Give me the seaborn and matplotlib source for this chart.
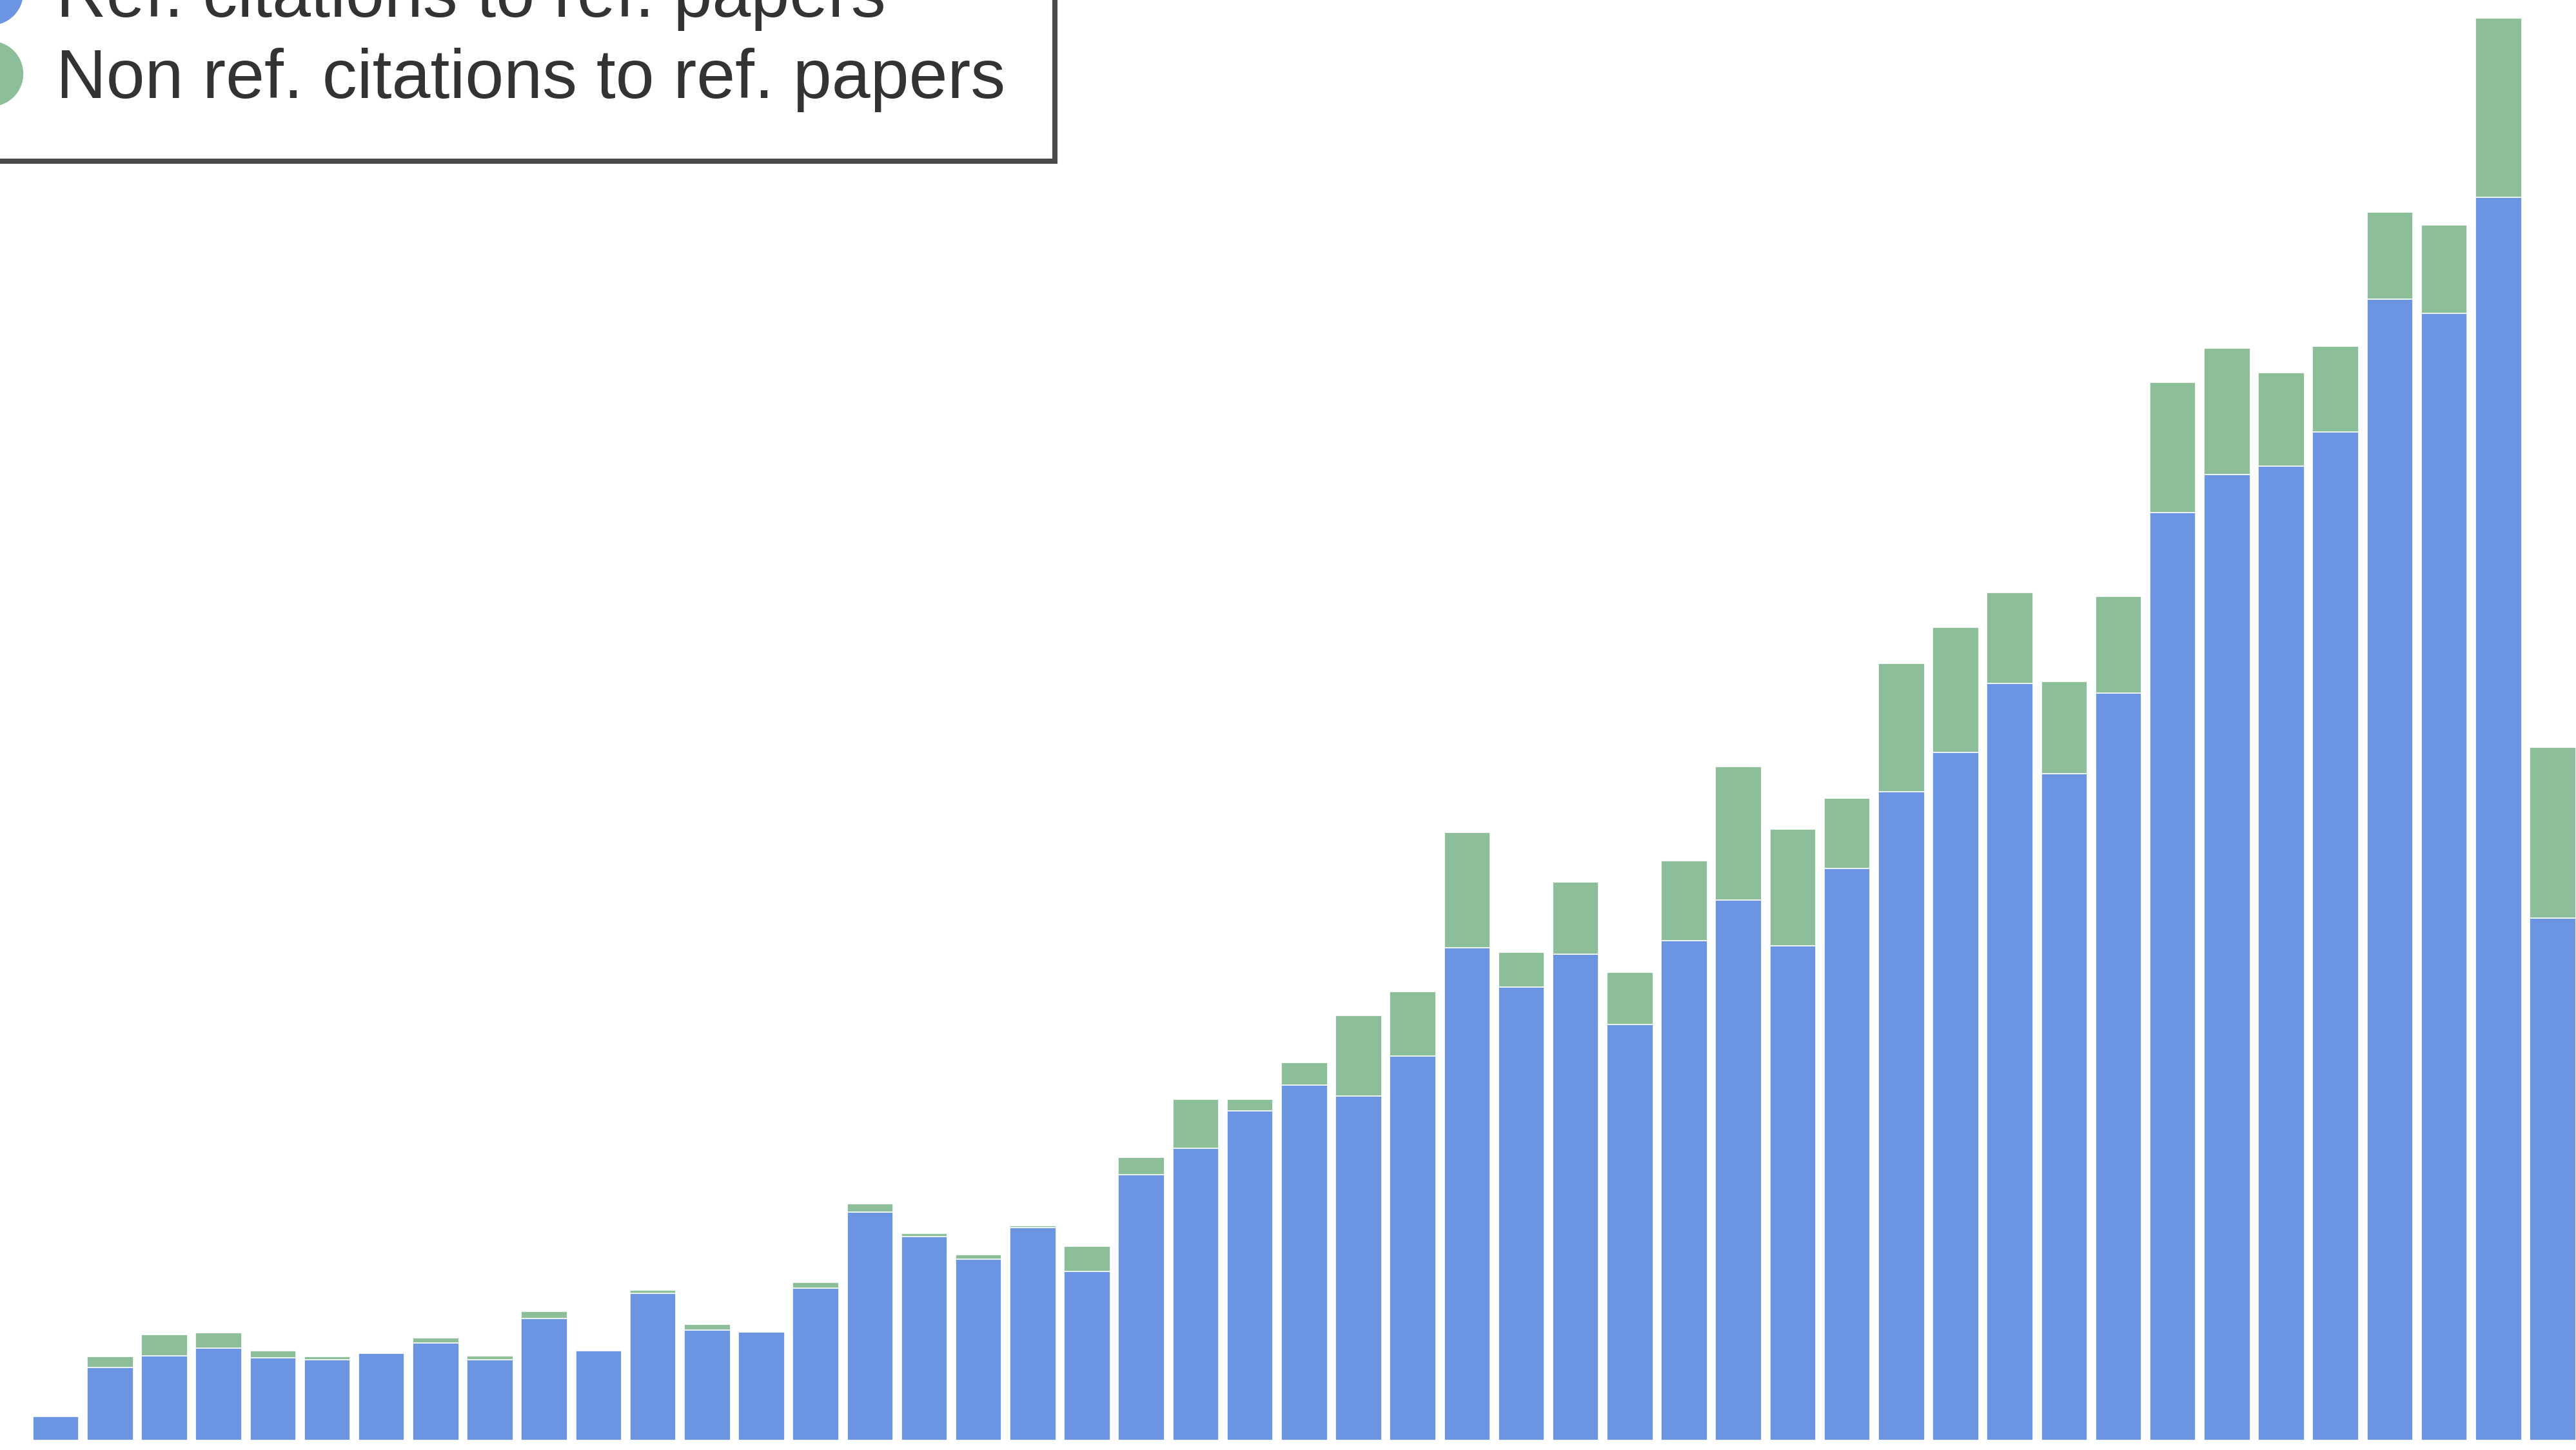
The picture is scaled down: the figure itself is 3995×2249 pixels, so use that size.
import matplotlib
matplotlib.use("Agg")
import matplotlib.pyplot as plt
from matplotlib.lines import Line2D
import numpy as np
import pandas as pd
import seaborn as sns

# Citation counts per period (ref. citing papers vs. non ref. citing papers)
periods = list(range(1, 48))
ref_citations = [14.4, 44.2, 51.4, 56.2, 50.1, 48.8, 52.7, 59.3, 48.8, 73.9,
                 54.3, 89.6, 67.0, 65.7, 92.6, 138.9, 123.8, 110.3, 129.5, 102.8,
                 161.7, 177.9, 200.4, 216.1, 209.6, 233.8, 300, 276, 296, 253,
                 304, 329, 301, 348, 395, 419, 461, 406, 455, 565,
                 588, 593, 614, 695, 686, 757, 318]
nonref_citations = [0, 6.8, 12.7, 9.4, 4.5, 2.2, 0.3, 3.1, 2.5, 4.6,
                    0, 1.7, 3.4, 0, 3.3, 5.0, 2.1, 2.8, 1.1, 15.4,
                    10.7, 29.8, 7.3, 13.9, 49.1, 39.4, 70, 21, 44, 32,
                    49, 81, 71, 43, 78, 76, 55, 56, 59, 79,
                    77, 57, 52, 53, 54, 109, 104]
series_labels = ["Ref. citations to ref. papers", "Non ref. citations to ref. papers"]

BLUE = "#6b95e2"
GREEN = "#8cbe99"

df = pd.DataFrame({"period": periods, "ref": ref_citations, "nonref": nonref_citations})
df["total"] = df["ref"] + df["nonref"]

sns.set_theme(style="white")
plt.rcParams["font.family"] = ["Liberation Sans", "DejaVu Sans"]

W, H = 3995, 2249
DPI = 100
fig = plt.figure(figsize=(W / DPI, H / DPI), dpi=DPI, facecolor="white")
ax = fig.add_axes([0, 0, 1, 1])

# Stacked bars: draw the totals in green, then the ref part in blue on top
sns.barplot(data=df, x="period", y="total", color=GREEN, saturation=1,
            width=0.85, edgecolor="white", linewidth=1.2, ax=ax)
sns.barplot(data=df, x="period", y="ref", color=BLUE, saturation=1,
            width=0.85, edgecolor="white", linewidth=1.2, ax=ax)

px = 1568.0
pitch = 33.04
x0 = -34.0 / pitch
ax.set_xlim(x0, x0 + px / pitch)
ax.set_ylim(-6, 877)
ax.axis("off")

handles = [Line2D([], [], marker="o", ls="", color=BLUE, markersize=72),
           Line2D([], [], marker="o", ls="", color=GREEN, markersize=72)]
leg = ax.legend(handles, series_labels, loc="lower right",
                bbox_to_anchor=(1636 / W, 1 - 250 / H),
                bbox_transform=fig.transFigure, borderaxespad=0,
                fontsize=77.5, frameon=True, fancybox=False,
                borderpad=0.71, handlelength=1.0, handletextpad=0.45,
                labelspacing=0.24, labelcolor="#333333")
frame = leg.get_frame()
frame.set_edgecolor("#4a4a4a")
frame.set_linewidth(5.8)
frame.set_facecolor("white")
frame.set_alpha(1)

fig.savefig("out.png", dpi=DPI, facecolor="white")
